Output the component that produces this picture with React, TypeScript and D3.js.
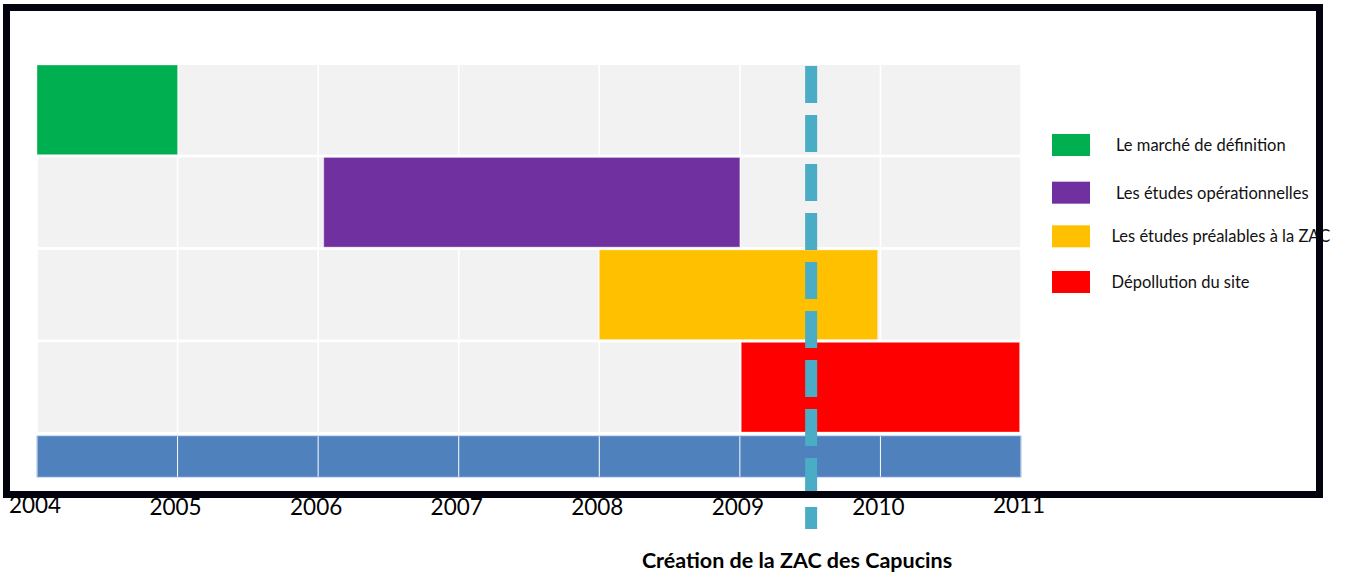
import React from "react";
import * as d3 from "d3";

const tasks = [
  "Le marché de définition",
  "Les études opérationnelles",
  "Les études préalables à la ZAC",
  "Dépollution du site",
];
const taskStart = [2004, 2006.04, 2008, 2009.01];
const taskEnd = [2005, 2009, 2009.98, 2010.99];
const taskColors = ["#00B050", "#7030A0", "#FFC000", "#FF0000"];
const years = [2004, 2005, 2006, 2007, 2008, 2009, 2010, 2011];
const yearLabels = ["2004", "2005", "2006", "2007", "2008", "2009", "2010", "2011"];
const milestone = 2009.5;
const milestoneLabel = "Création de la ZAC des Capucins";

const W = 1346;
const H = 574;
const FONT = "Lato, 'Open Sans', sans-serif";

export default function App() {
  const x = d3.scaleLinear().domain([2004, 2011]).range([37, 1021]);
  const y = d3.scaleBand<string>().domain(tasks).range([65, 432]).paddingInner(0.03).paddingOuter(0);
  const bw = y.bandwidth();
  const yearPairs = d3.pairs(years);
  const legendY = d3.scalePoint<string>().domain(tasks).range([145, 282]);

  return (
    <svg width={W} height={H} style={{ position: "absolute", left: 0, top: 0, background: "#fff" }}>
      {/* row backgrounds */}
      {tasks.map((t) =>
        yearPairs.map(([a, b]) => (
          <rect key={t + a} x={x(a) + 0.8} y={y(t)!} width={x(b) - x(a) - 1.6} height={bw} fill="#F2F2F2" />
        ))
      )}
      {/* task bars */}
      {tasks.map((t, i) => (
        <rect
          key={"bar" + t}
          x={x(taskStart[i])}
          y={y(t)!}
          width={x(taskEnd[i]) - x(taskStart[i])}
          height={bw}
          fill={taskColors[i]}
          stroke="rgba(255,255,255,0.35)"
          strokeWidth={1}
        />
      ))}
      {/* timeline blue bar */}
      {yearPairs.map(([a, b]) => (
        <rect key={"tl" + a} x={x(a) + 0.5} y={436} width={x(b) - x(a) - 1} height={41} fill="#4F81BD" />
      ))}
      <rect x={x(2004)} y={436} width={x(2011) - x(2004)} height={41} fill="none" stroke="#8EAADB" strokeWidth={0.8} />
      {/* milestone dashed line */}
      <line
        x1={x(milestone) + 1}
        x2={x(milestone) + 1}
        y1={66}
        y2={529}
        stroke="#4BACC6"
        strokeWidth={12}
        strokeDasharray="37 12"
      />
      {/* legend */}
      {tasks.map((t, i) => (
        <g key={"lg" + t}>
          <rect x={1052} y={legendY(t)! - 11 + (i === 1 ? 2 : 0)} width={38} height={22} fill={taskColors[i]} />
          <text
            x={i < 2 ? 1116 : 1111.5}
            y={legendY(t)! + 6 + (i === 1 ? 2 : 0)}
            fontFamily={FONT}
            fontSize={16.5}
            fill="#111"
          >
            {t}
          </text>
        </g>
      ))}
      {/* frame */}
      <rect x={6.5} y={7.5} width={1313} height={487} fill="none" stroke="#03030E" strokeWidth={7} />
      {/* year labels */}
      {years.map((yr, i) => (
        <text
          key={"yl" + yr}
          x={x(yr) - 2}
          y={i === 0 || i === years.length - 1 ? 513 : 515}
          textAnchor="middle"
          fontFamily={FONT}
          fontSize={22.5}
          fill="#000"
        >
          {yearLabels[i]}
        </text>
      ))}
      {/* milestone label */}
      <text
        x={797}
        y={568}
        textAnchor="middle"
        fontFamily={FONT}
        fontSize={21.5}
        fontWeight="bold"
        fill="#000"
      >
        {milestoneLabel}
      </text>
    </svg>
  );
}
